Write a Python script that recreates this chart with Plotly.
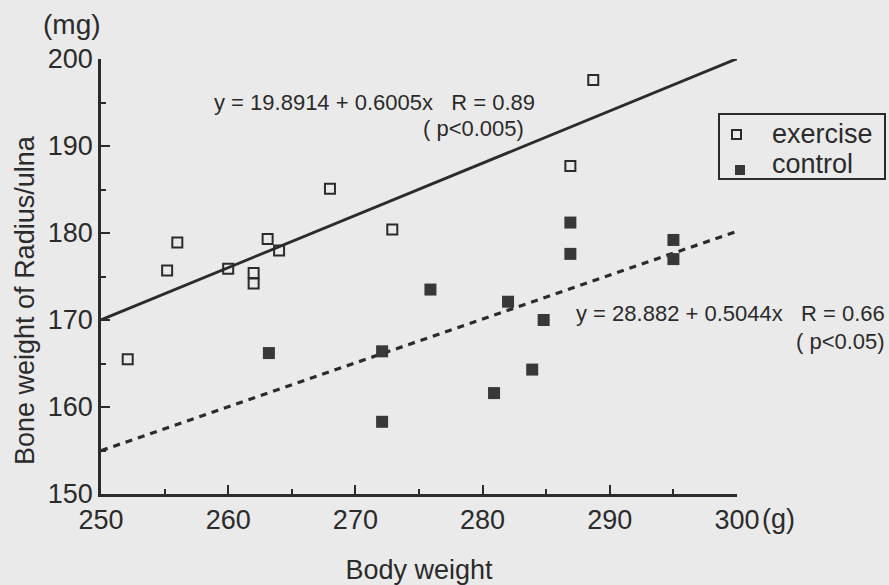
import plotly.graph_objects as go

# ---- data ----
exercise_x = [252.1, 255.2, 256.0, 260.0, 262.0, 262.0, 263.1, 264.0, 268.0, 272.9, 286.9, 288.7]
exercise_y = [165.5, 175.7, 178.9, 175.9, 175.4, 174.2, 179.3, 178.0, 185.1, 180.4, 187.7, 197.6]

control_x = [263.2, 272.1, 272.1, 275.9, 280.9, 282.0, 283.9, 284.8, 286.9, 286.9, 295.0, 295.0]
control_y = [166.2, 166.4, 158.3, 173.5, 161.6, 172.1, 164.3, 170.0, 181.2, 177.6, 179.2, 177.0]

# regression equations printed on the chart
exercise_fit = (19.8914, 0.6005)
control_fit = (28.882, 0.5044)
fit_x = [250, 300]

x_ticks = [250, 260, 270, 280, 290, 300]
x_ticktext = ["250", "260", "270", "280", "290", "300"]
y_ticks = [150, 160, 170, 180, 190, 200]

INK = "#2b2b2b"
BG = "#eaeaea"
FONT = "Liberation Sans, Arial, sans-serif"

# plot-area geometry on the page
PX0, PX1, PY0, PY1 = 101, 737, 59, 494


def px(x):
    return (x - PX0) / (PX1 - PX0)


def py(y):
    return (PY1 - y) / (PY1 - PY0)


fig = go.Figure()

fig.add_trace(go.Scatter(
    x=fit_x, y=[exercise_fit[0] + exercise_fit[1] * v for v in fit_x],
    mode="lines", line=dict(color=INK, width=2.8), showlegend=False,
    hoverinfo="skip", cliponaxis=False))
fig.add_trace(go.Scatter(
    x=fit_x, y=[control_fit[0] + control_fit[1] * v for v in fit_x],
    mode="lines", line=dict(color=INK, width=3.2, dash="7px,6px"), showlegend=False,
    hoverinfo="skip", cliponaxis=False))

fig.add_trace(go.Scatter(
    x=exercise_x, y=exercise_y, mode="markers", name="exercise", showlegend=False,
    marker=dict(symbol="square-open", size=10, color=INK, line=dict(width=2, color=INK)),
    cliponaxis=False))
fig.add_trace(go.Scatter(
    x=control_x, y=control_y, mode="markers", name="control", showlegend=False,
    marker=dict(symbol="square", size=12, color="#383838", line=dict(width=0)),
    cliponaxis=False))

ann_font = dict(family=FONT, size=22, color=INK)
big_font = dict(family=FONT, size=27, color=INK)
annotations = [
    dict(xref="paper", yref="paper", x=px(212), y=py(102), text="y = 19.8914 + 0.6005x   R = 0.89",
         xanchor="left", yanchor="middle", font=ann_font),
    dict(xref="paper", yref="paper", x=px(421), y=py(128), text="( p<0.005)",
         xanchor="left", yanchor="middle", font=ann_font),
    dict(xref="paper", yref="paper", x=px(887), y=py(313), text="y = 28.882 + 0.5044x   R = 0.66",
         xanchor="right", yanchor="middle", font=ann_font),
    dict(xref="paper", yref="paper", x=px(887), y=py(341), text="( p<0.05)",
         xanchor="right", yanchor="middle", font=ann_font),
    dict(xref="paper", yref="paper", x=px(760), y=py(519), text="(g)",
         xanchor="left", yanchor="middle", font=big_font),
    dict(xref="paper", yref="paper", x=px(41), y=py(25), text="(mg)",
         xanchor="left", yanchor="middle", font=dict(family=FONT, size=28, color=INK)),
    dict(xref="paper", yref="paper", x=px(25), y=py(300), text="Bone weight of Radius/ulna", textangle=-90,
         xanchor="center", yanchor="middle", font=big_font),
    # legend texts
    dict(xref="paper", yref="paper", x=px(770), y=py(134), text="exercise",
         xanchor="left", yanchor="middle", font=big_font),
    dict(xref="paper", yref="paper", x=px(770), y=py(164), text="control",
         xanchor="left", yanchor="middle", font=big_font),
]
for a in annotations:
    a["showarrow"] = False

shapes = [
    # legend frame
    dict(type="rect", xref="paper", yref="paper", x0=px(719), x1=px(885), y0=py(179), y1=py(114),
         line=dict(color=INK, width=2)),
    # legend symbols
    dict(type="rect", xref="paper", yref="paper", x0=px(732), x1=px(741), y0=py(139), y1=py(130),
         line=dict(color=INK, width=2)),
    dict(type="rect", xref="paper", yref="paper", x0=px(735), x1=px(745), y0=py(175), y1=py(165),
         line=dict(width=0), fillcolor="#383838"),
]

fig.update_layout(
    width=889, height=585,
    margin=dict(l=PX0, r=889 - PX1, t=PY0, b=585 - PY1, autoexpand=False),
    paper_bgcolor=BG, plot_bgcolor=BG,
    font=dict(family=FONT, size=27, color=INK),
    annotations=annotations, shapes=shapes,
    showlegend=False,
    xaxis=dict(range=[250, 300], tickvals=x_ticks, ticktext=x_ticktext, automargin=False,
               showgrid=False, zeroline=False, showline=True, linecolor=INK, linewidth=2.5,
               ticks="inside", ticklen=9, tickwidth=2, tickcolor=INK,
               minor=dict(ticks="inside", ticklen=5, tickwidth=2, tickcolor=INK, dtick=5, tick0=250, showgrid=False),
               title=dict(text="Body weight", font=big_font, standoff=26),
               tickfont=big_font),
    yaxis=dict(range=[150, 200], tickvals=y_ticks, automargin=False,
               showgrid=False, zeroline=False, showline=True, linecolor=INK, linewidth=2.5,
               ticks="inside", ticklen=9, tickwidth=2, tickcolor=INK,
               minor=dict(ticks="inside", ticklen=5, tickwidth=2, tickcolor=INK, dtick=5, tick0=150, showgrid=False),
               tickfont=big_font),
)

fig.write_html(
    "out.html",
    config={"displayModeBar": False},
    post_script="document.body.style.margin='0';document.body.style.overflow='hidden';"
                "document.body.style.background='" + BG + "';",
)
